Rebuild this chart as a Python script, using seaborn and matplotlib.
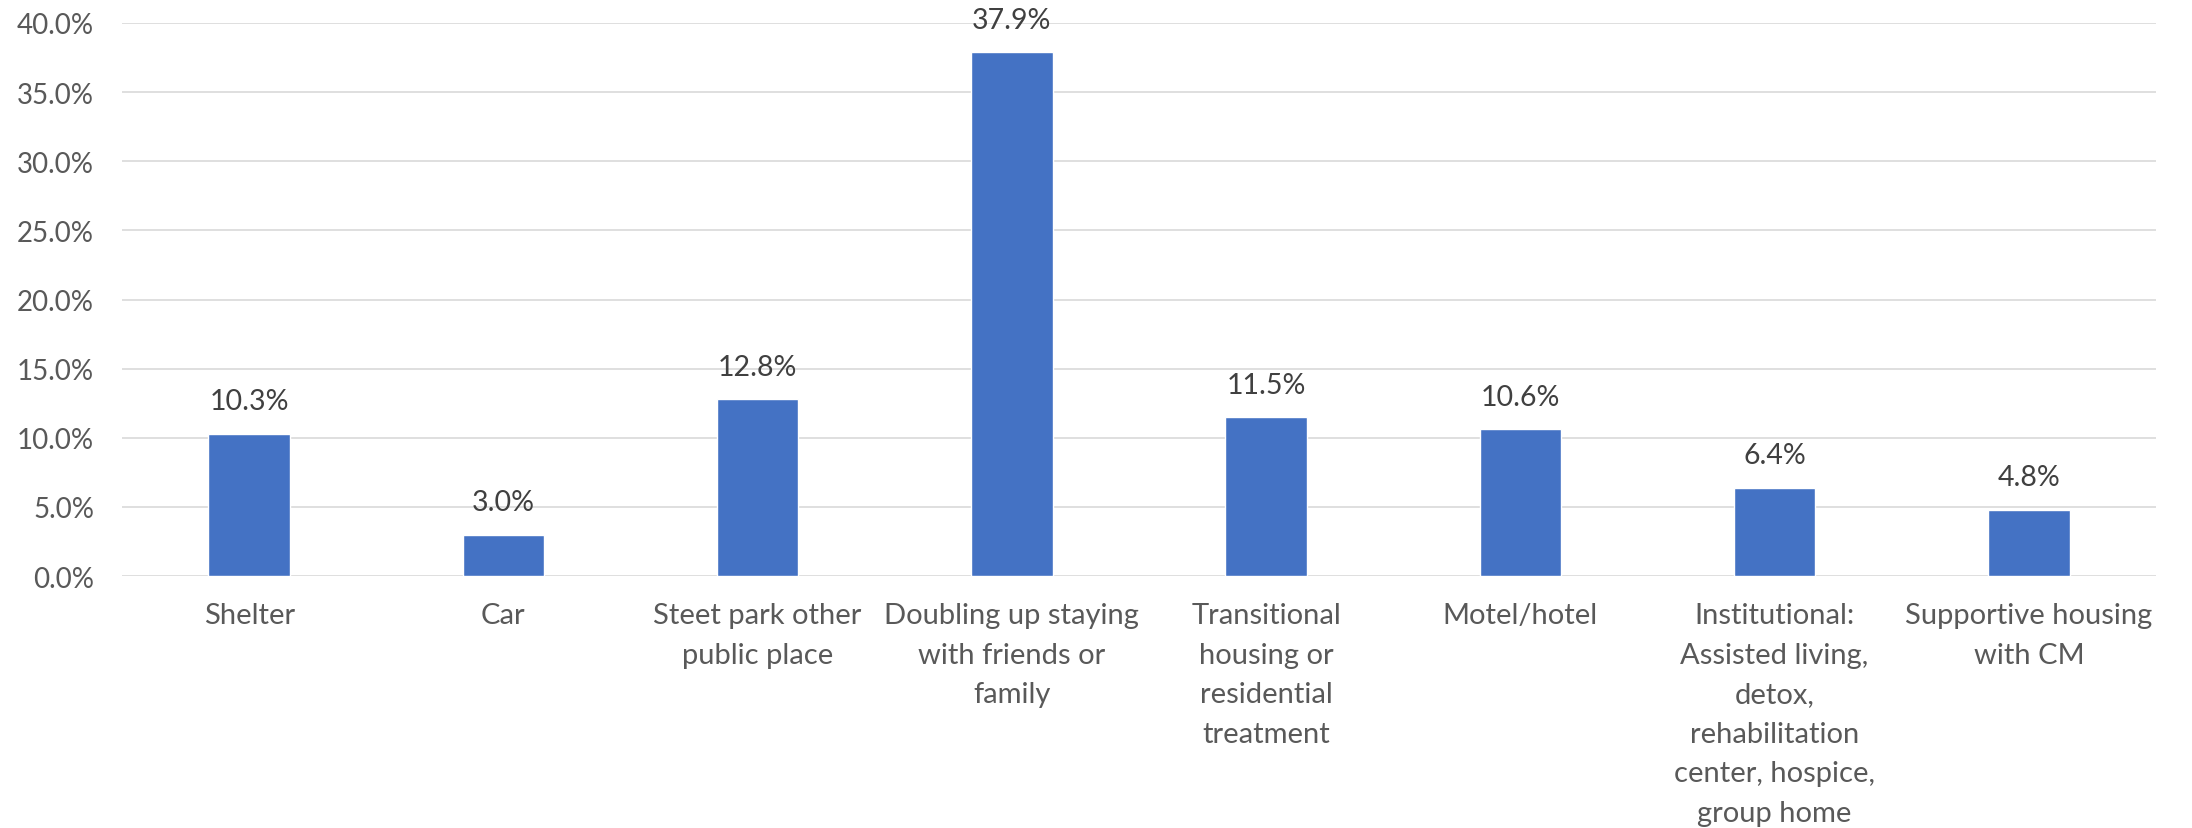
import matplotlib
matplotlib.use("Agg")
import matplotlib.pyplot as plt
import seaborn as sns
import pandas as pd
from matplotlib.ticker import PercentFormatter

categories = [
    "Shelter",
    "Car",
    "Steet park other\npublic place",
    "Doubling up staying\nwith friends or\nfamily",
    "Transitional\nhousing or\nresidential\ntreatment",
    "Motel/hotel",
    "Institutional:\nAssisted living,\ndetox,\nrehabilitation\ncenter, hospice,\ngroup home",
    "Supportive housing\nwith CM",
]
values = [10.3, 3.0, 12.8, 37.9, 11.5, 10.6, 6.4, 4.8]
y_ticks = [0, 5, 10, 15, 20, 25, 30, 35, 40]

sns.set_theme(style="white")
plt.rcParams["font.family"] = ["Lato", "DejaVu Sans"]

df = pd.DataFrame({"cat": categories, "val": values})

fig = plt.figure(figsize=(21.92, 8.29), dpi=100)
ax = fig.add_axes([122 / 2192, 252 / 829, (2156 - 122) / 2192, (577 - 24) / 829])

sns.barplot(data=df, x="cat", y="val", color="#4472C4", width=0.32,
            saturation=1, ax=ax, zorder=3)

ax.set_ylim(0, 40)
ax.set_xlim(-0.5, len(categories) - 0.5)
ax.set_yticks(y_ticks)
ax.yaxis.set_major_formatter(PercentFormatter(decimals=1))
ax.grid(axis="y", color="#d9d9d9", linewidth=1.2, zorder=0)
ax.grid(axis="x", visible=False)
for s in ax.spines.values():
    s.set_visible(False)
ax.set_xlabel("")
ax.set_ylabel("")
ax.tick_params(axis="y", length=0, pad=20, labelsize=20, labelcolor="#595959")
ax.tick_params(axis="x", length=0, pad=19, labelsize=21, labelcolor="#595959")
for lbl in ax.get_xticklabels():
    lbl.set_linespacing(1.64)
    lbl.set_horizontalalignment("center")
    lbl.set_verticalalignment("top")

for c in ax.containers:
    ax.bar_label(c, labels=[f"{v:.1f}%" for v in values], padding=14,
                 fontsize=20.5, color="#404040")

fig.savefig("out.png", dpi=100, facecolor="white")
